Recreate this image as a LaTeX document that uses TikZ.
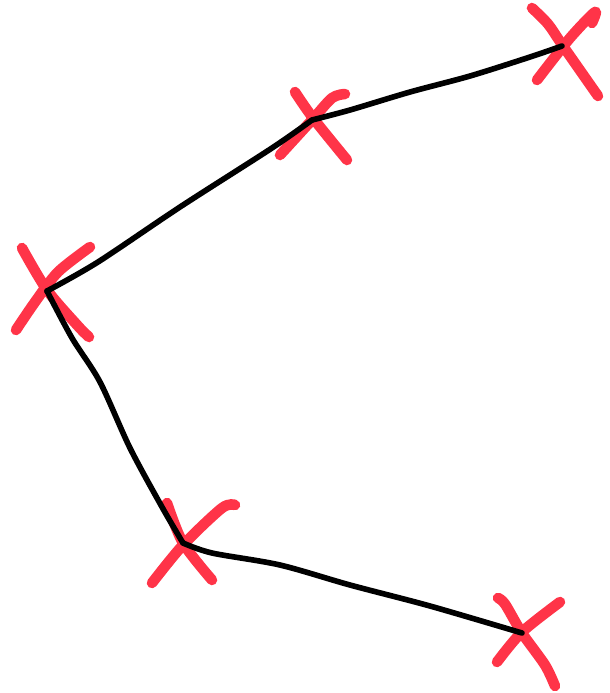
\documentclass[tikz,border=0pt]{standalone}
\usepackage{tikz}
\usetikzlibrary{calc}
\definecolor{redx}{HTML}{FF3448}
\tikzset{
  cross/.style={redx,line width=3pt,line cap=round,line join=round},
  wire/.style={black,line width=1.6pt,line cap=round,line join=round}
}
\begin{document}
\begin{tikzpicture}[x=0.01cm,y=-0.01cm]
\useasboundingbox (0,0) rectangle (610,693);
\coordinate (m1) at (47,291);
\coordinate (m2) at (312,120);
\coordinate (m3) at (562,46);
\coordinate (m4) at (183,543);
\coordinate (m5) at (522,633);
% red crosses
\draw[cross] plot[smooth] coordinates {(22,248) (47,290) (78,326) (89,337)};
\draw[cross] plot[smooth] coordinates {(90,247) (58,272) (35,302) (16,330)};
\draw[cross] plot[smooth] coordinates {(295,92) (313,118) (347,160)};
\draw[cross] plot[smooth] coordinates {(345,94) (332,98) (312,120) (280,155)};
\draw[cross] plot[smooth] coordinates {(532,8) (548,24) (563,46) (598,96)};
\draw[cross] plot[smooth] coordinates {(592,23) (595,12) (570,38) (537,80)};
\draw[cross] plot[smooth] coordinates {(167,503) (183,543) (212,580)};
\draw[cross] plot[smooth] coordinates {(235,505) (222,508) (183,545) (152,583)};
\draw[cross] plot[smooth] coordinates {(498,598) (505,604) (522,633) (545,665) (555,686)};
\draw[cross] plot[smooth] coordinates {(560,602) (522,632) (497,662)};
% black path
\draw[wire] plot[smooth] coordinates {(m1) (98,262) (180,207) (272,148) (m2)};
\draw[wire] plot[smooth] coordinates {(m2) (350,110) (410,92) (470,76) (530,57) (m3)};
\draw[wire] plot[smooth] coordinates {(m1) (72,338) (100,382) (130,448) (162,507) (m4)};
\draw[wire] plot[smooth] coordinates {(m4) (212,553) (280,565) (350,585) (430,606) (m5)};
\end{tikzpicture}
\end{document}
